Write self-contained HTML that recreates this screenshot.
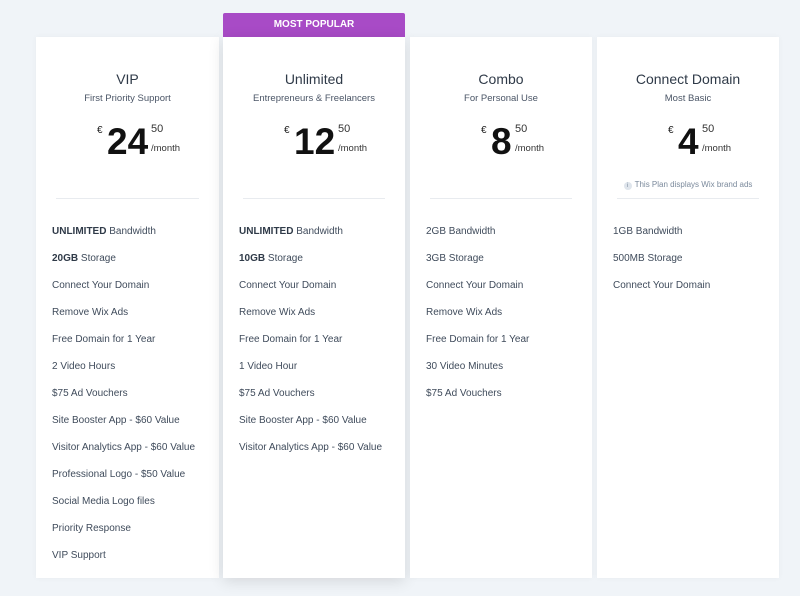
<!DOCTYPE html>
<html><head><meta charset="utf-8"><style>
body{margin:0;width:800px;height:596px;background:#f0f4f8;font-family:"Liberation Sans",sans-serif;position:relative;overflow:hidden}
.card{position:absolute;top:37px;height:541px;width:183px;background:#fff;box-shadow:0 0 6px rgba(0,0,0,0.04)}
.card.pop{box-shadow:0 3px 14px rgba(0,0,0,0.12)}
.banner{position:absolute;left:223px;top:13px;width:182px;height:24px;background:#a84bc6;color:#fff;font-size:10px;font-weight:bold;text-align:center;line-height:24px;border-radius:2px 2px 0 0}
.title{position:absolute;top:34px;width:100%;text-align:center;font-size:14px;color:#2f3a48}
.sub{position:absolute;top:56px;width:100%;text-align:center;font-size:9.5px;color:#4a5566}
.price{position:absolute;top:84px;left:0;width:100%;height:40px}
.price .in{position:absolute;top:0;height:40px}
.eur{position:absolute;left:0;top:4px;font-size:10px;color:#222}
.num{position:absolute;left:10px;top:1px;font-size:37px;font-weight:bold;color:#111;line-height:40px}
.cents{position:absolute;top:2px;font-size:11px;color:#333}
.mo{position:absolute;top:22px;font-size:9.5px;color:#333}
.div{position:absolute;top:161px;left:20px;right:20px;height:1px;background:#e8ebef}
.note{position:absolute;top:143px;width:100%;text-align:center;font-size:8px;color:#7b8a9c}
.note i{display:inline-block;width:8px;height:8px;border-radius:50%;background:#dfe5ec;color:#7b8a9c;font-size:6px;line-height:8px;font-style:normal;margin-right:3px;vertical-align:0}
ul{position:absolute;top:189px;left:16px;margin:0;padding:0;list-style:none}
li{height:27px;font-size:10px;color:#3f4b5b}
li b{color:#2f3a48}
</style></head><body>
<div class="banner">MOST POPULAR</div>

<div class="card" style="left:36px">
<div class="title">VIP</div>
<div class="sub">First Priority Support</div>
<div class="price"><div class="in" style="left:61px"><span class="eur">€</span><span class="num">24</span><span class="cents" style="left:54px">50</span><span class="mo" style="left:54px">/month</span></div></div>
<div class="div"></div>
<ul>
<li><b>UNLIMITED</b> Bandwidth</li><li><b>20GB</b> Storage</li><li>Connect Your Domain</li><li>Remove Wix Ads</li><li>Free Domain for 1 Year</li><li>2 Video Hours</li><li>$75 Ad Vouchers</li><li>Site Booster App - $60 Value</li><li>Visitor Analytics App - $60 Value</li><li>Professional Logo - $50 Value</li><li>Social Media Logo files</li><li>Priority Response</li><li>VIP Support</li>
</ul></div>

<div class="card pop" style="left:223px;width:182px">
<div class="title">Unlimited</div>
<div class="sub">Entrepreneurs &amp; Freelancers</div>
<div class="price"><div class="in" style="left:61px"><span class="eur">€</span><span class="num">12</span><span class="cents" style="left:54px">50</span><span class="mo" style="left:54px">/month</span></div></div>
<div class="div"></div>
<ul>
<li><b>UNLIMITED</b> Bandwidth</li><li><b>10GB</b> Storage</li><li>Connect Your Domain</li><li>Remove Wix Ads</li><li>Free Domain for 1 Year</li><li>1 Video Hour</li><li>$75 Ad Vouchers</li><li>Site Booster App - $60 Value</li><li>Visitor Analytics App - $60 Value</li>
</ul></div>

<div class="card" style="left:410px;width:182px">
<div class="title">Combo</div>
<div class="sub">For Personal Use</div>
<div class="price"><div class="in" style="left:71px"><span class="eur">€</span><span class="num">8</span><span class="cents" style="left:34px">50</span><span class="mo" style="left:34px">/month</span></div></div>
<div class="div"></div>
<ul>
<li>2GB Bandwidth</li><li>3GB Storage</li><li>Connect Your Domain</li><li>Remove Wix Ads</li><li>Free Domain for 1 Year</li><li>30 Video Minutes</li><li>$75 Ad Vouchers</li>
</ul></div>

<div class="card" style="left:597px;width:182px">
<div class="title">Connect Domain</div>
<div class="sub">Most Basic</div>
<div class="price"><div class="in" style="left:71px"><span class="eur">€</span><span class="num">4</span><span class="cents" style="left:34px">50</span><span class="mo" style="left:34px">/month</span></div></div>
<div class="note"><i>i</i>This Plan displays Wix brand ads</div>
<div class="div"></div>
<ul>
<li>1GB Bandwidth</li><li>500MB Storage</li><li>Connect Your Domain</li>
</ul></div>
</body></html>
